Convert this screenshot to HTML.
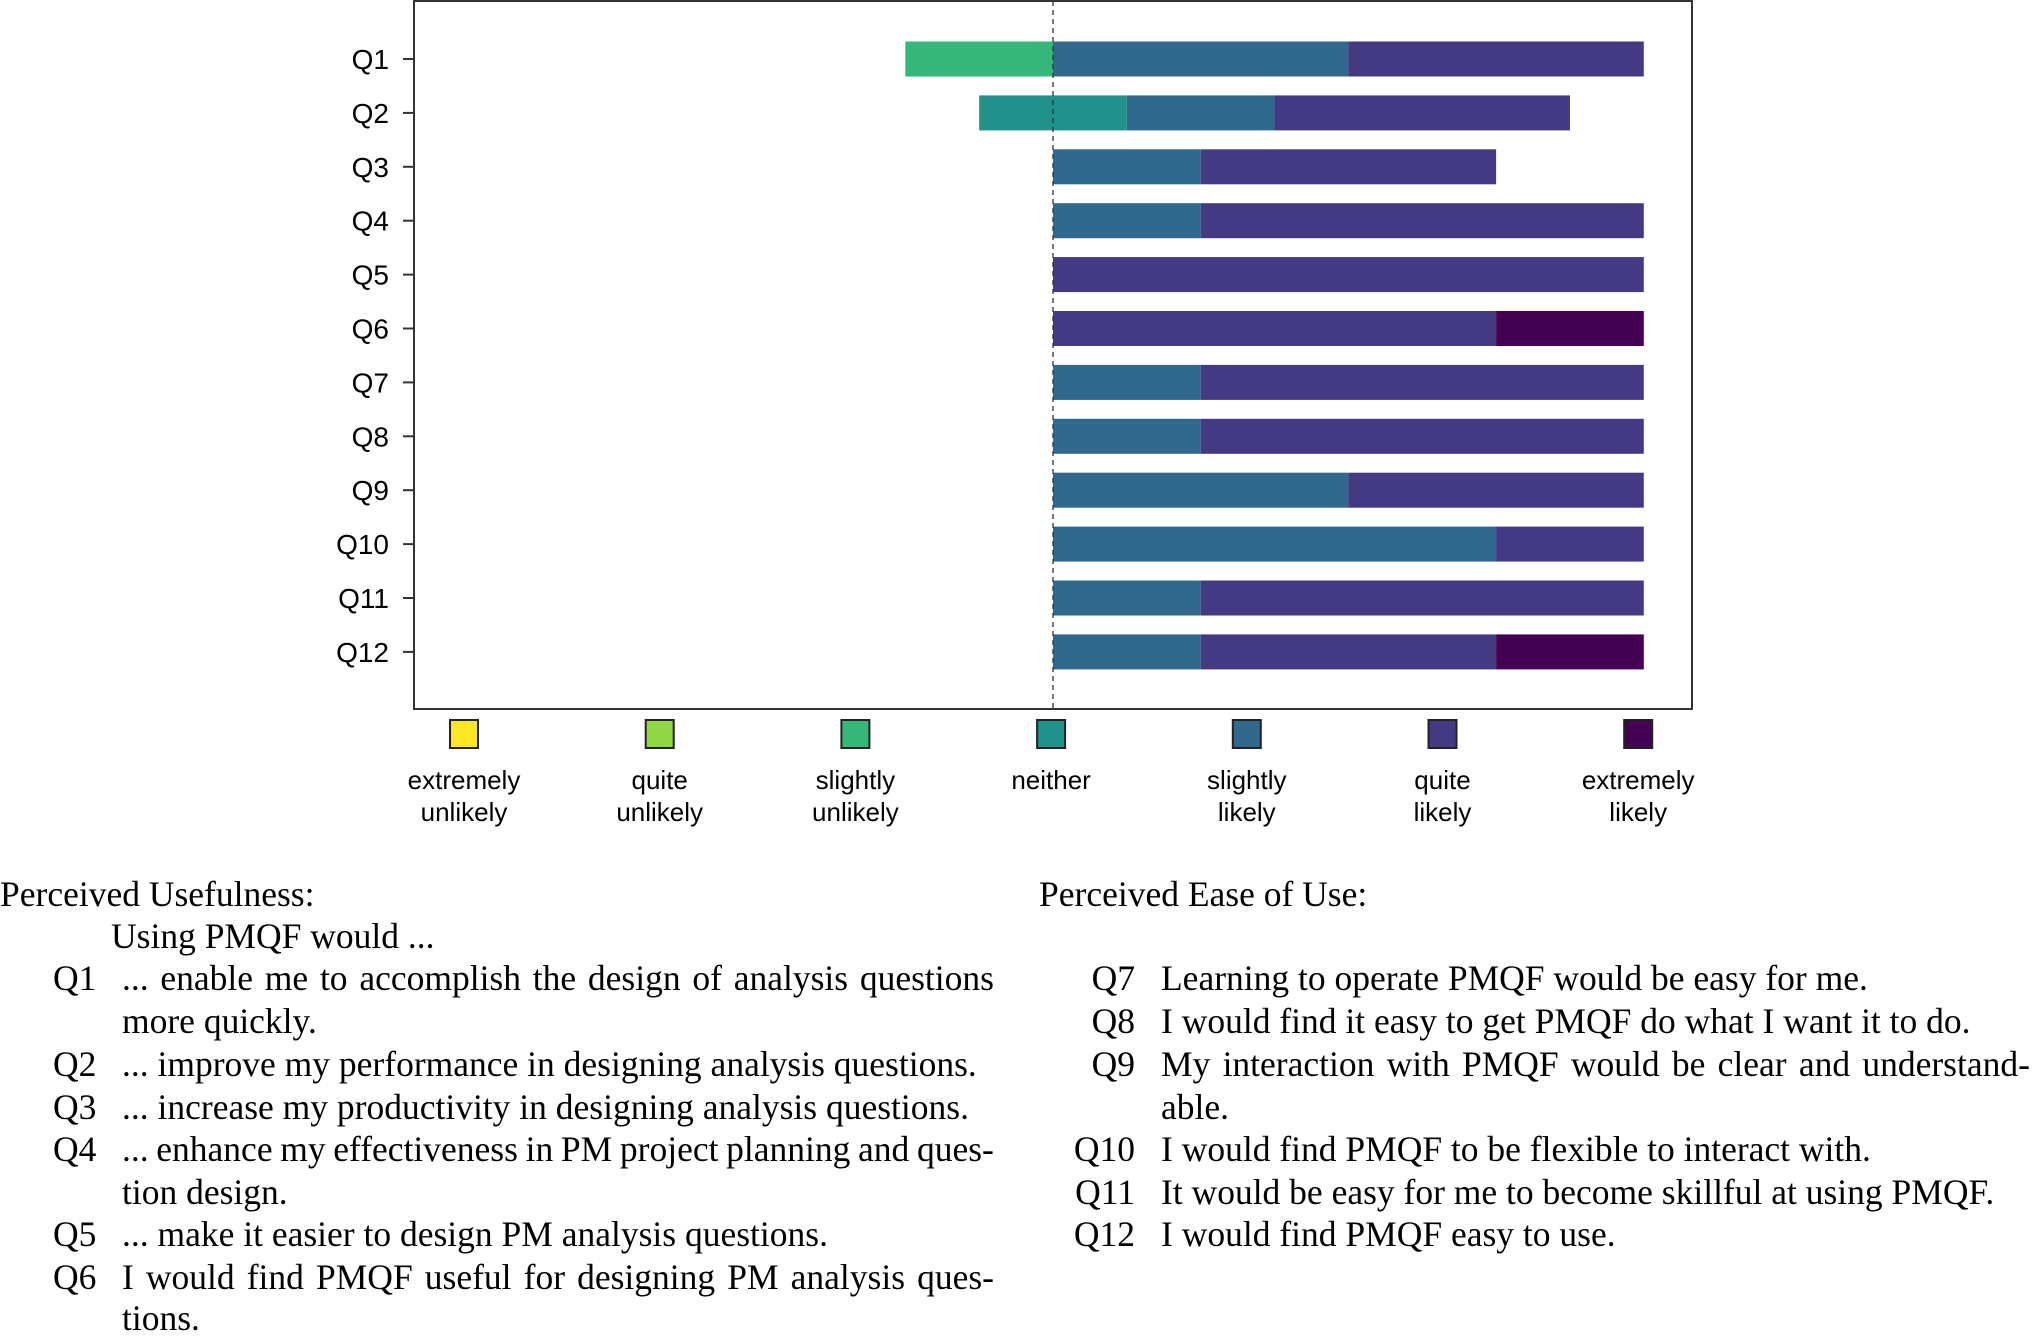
<!DOCTYPE html>
<html><head><meta charset="utf-8"><style>
html,body{margin:0;padding:0;background:#fff;}
body{width:2032px;height:1330px;position:relative;overflow:hidden;}
svg{position:absolute;left:0;top:0;}
.t{position:absolute;font-family:"Liberation Serif",serif;font-size:35.5px;line-height:43px;white-space:nowrap;color:#000;}
.j{display:flex;justify-content:space-between;flex-wrap:nowrap;}
.r{text-align:right;}
</style></head><body>
<svg id="chart" width="2032" height="860"></svg>

<div class="t" style="left:0;top:873px">Perceived Usefulness:</div>
<div class="t" style="left:111px;top:915px">Using PMQF would ...</div>
<div class="t" style="left:53px;top:957px">Q1</div>
<div class="t j" style="left:122px;top:957px;width:872px"><span>...</span><span>enable</span><span>me</span><span>to</span><span>accomplish</span><span>the</span><span>design</span><span>of</span><span>analysis</span><span>questions</span></div>
<div class="t" style="left:122px;top:1000px">more quickly.</div>
<div class="t" style="left:53px;top:1043px">Q2</div>
<div class="t" style="left:122px;top:1043px">... improve my performance in designing analysis questions.</div>
<div class="t" style="left:53px;top:1086px">Q3</div>
<div class="t" style="left:122px;top:1086px">... increase my productivity in designing analysis questions.</div>
<div class="t" style="left:53px;top:1128px">Q4</div>
<div class="t j" style="left:122px;top:1128px;width:872px"><span>...</span><span>enhance</span><span>my</span><span>effectiveness</span><span>in</span><span>PM</span><span>project</span><span>planning</span><span>and</span><span>ques-</span></div>
<div class="t" style="left:122px;top:1171px">tion design.</div>
<div class="t" style="left:53px;top:1213px">Q5</div>
<div class="t" style="left:122px;top:1213px">... make it easier to design PM analysis questions.</div>
<div class="t" style="left:53px;top:1256px">Q6</div>
<div class="t j" style="left:122px;top:1256px;width:872px"><span>I</span><span>would</span><span>find</span><span>PMQF</span><span>useful</span><span>for</span><span>designing</span><span>PM</span><span>analysis</span><span>ques-</span></div>
<div class="t" style="left:122px;top:1297px">tions.</div>

<div class="t" style="left:1039px;top:873px">Perceived Ease of Use:</div>
<div class="t r" style="left:1050px;width:85px;top:957px">Q7</div>
<div class="t" style="left:1161px;top:957px">Learning to operate PMQF would be easy for me.</div>
<div class="t r" style="left:1050px;width:85px;top:1000px">Q8</div>
<div class="t" style="left:1161px;top:1000px">I would find it easy to get PMQF do what I want it to do.</div>
<div class="t r" style="left:1050px;width:85px;top:1043px">Q9</div>
<div class="t j" style="left:1161px;top:1043px;width:869px"><span>My</span><span>interaction</span><span>with</span><span>PMQF</span><span>would</span><span>be</span><span>clear</span><span>and</span><span>understand-</span></div>
<div class="t" style="left:1161px;top:1086px">able.</div>
<div class="t r" style="left:1050px;width:85px;top:1128px">Q10</div>
<div class="t" style="left:1161px;top:1128px">I would find PMQF to be flexible to interact with.</div>
<div class="t r" style="left:1050px;width:85px;top:1171px">Q11</div>
<div class="t" style="left:1161px;top:1171px">It would be easy for me to become skillful at using PMQF.</div>
<div class="t r" style="left:1050px;width:85px;top:1213px">Q12</div>
<div class="t" style="left:1161px;top:1213px">I would find PMQF easy to use.</div>

<script>
const questions = ["Q1","Q2","Q3","Q4","Q5","Q6","Q7","Q8","Q9","Q10","Q11","Q12"];
const levels = ["extremely unlikely","quite unlikely","slightly unlikely","neither","slightly likely","quite likely","extremely likely"];
const extremelyUnlikely = [0,0,0,0,0,0,0,0,0,0,0,0];
const quiteUnlikely     = [0,0,0,0,0,0,0,0,0,0,0,0];
const slightlyUnlikely  = [1,0,0,0,0,0,0,0,0,0,0,0];
const neither           = [0,1,0,0,0,0,0,0,0,0,0,0];
const slightlyLikely    = [2,1,1,1,0,0,1,1,2,3,1,1];
const quiteLikely       = [2,2,2,3,4,3,3,3,2,1,3,2];
const extremelyLikely   = [0,0,0,0,0,1,0,0,0,0,0,1];

const colors = ["#fde725","#8fd744","#35b779","#21918c","#31688e","#443983","#440154"];
const series = [extremelyUnlikely,quiteUnlikely,slightlyUnlikely,neither,slightlyLikely,quiteLikely,extremelyLikely];
const NS = "http://www.w3.org/2000/svg";
const svg = document.getElementById("chart");
const plot = {left:414, right:1692, top:1, bottom:709};
const center = 1053, unit = 147.7;
const xScale = v => center + v*unit;
const yScale = i => 59 + i*53.9;
const barH = 35;
function mk(tag, attrs){const e=document.createElementNS(NS,tag);for(const k in attrs)e.setAttribute(k,attrs[k]);svg.appendChild(e);return e;}

questions.forEach((q,i)=>{
  let start = -(series[0][i]+series[1][i]+series[2][i]+series[3][i]/2);
  series.forEach((s,k)=>{
    const v = s[i];
    if(v>0){
      const r = mk("rect",{x:xScale(start),y:yScale(i)-barH/2,width:v*unit,height:barH,fill:colors[k]});
      
      
    }
    start += v;
  });
  const tk = mk("line",{x1:plot.left-11,x2:plot.left,y1:yScale(i),y2:yScale(i),stroke:"#333","stroke-width":2});
  
  
  const t = mk("text",{x:389,y:yScale(i)+10,"text-anchor":"end","font-family":"Liberation Sans, sans-serif","font-size":28,fill:"#000"});
  t.textContent = q;
  
  
});

const dl = mk("line",{x1:center,x2:center,y1:plot.top,y2:plot.bottom,stroke:"#333","stroke-width":1.3,"stroke-dasharray":"5,4"});


const frame = mk("rect",{x:plot.left,y:plot.top,width:plot.right-plot.left,height:plot.bottom-plot.top,fill:"none",stroke:"#333","stroke-width":2});



levels.forEach((lv,k)=>{
  const cx = 464 + k*195.7;
  const sq = mk("rect",{x:cx-14,y:720,width:28,height:28,fill:colors[k],stroke:"#222","stroke-width":2});
  
  
  const words = lv.split(" ");
  words.forEach((w,j)=>{
    const t = mk("text",{x:cx,y:789+j*32,"text-anchor":"middle","font-family":"Liberation Sans, sans-serif","font-size":26,fill:"#000"});
    t.textContent = w;
    
    
  });
});
</script>
</body></html>
